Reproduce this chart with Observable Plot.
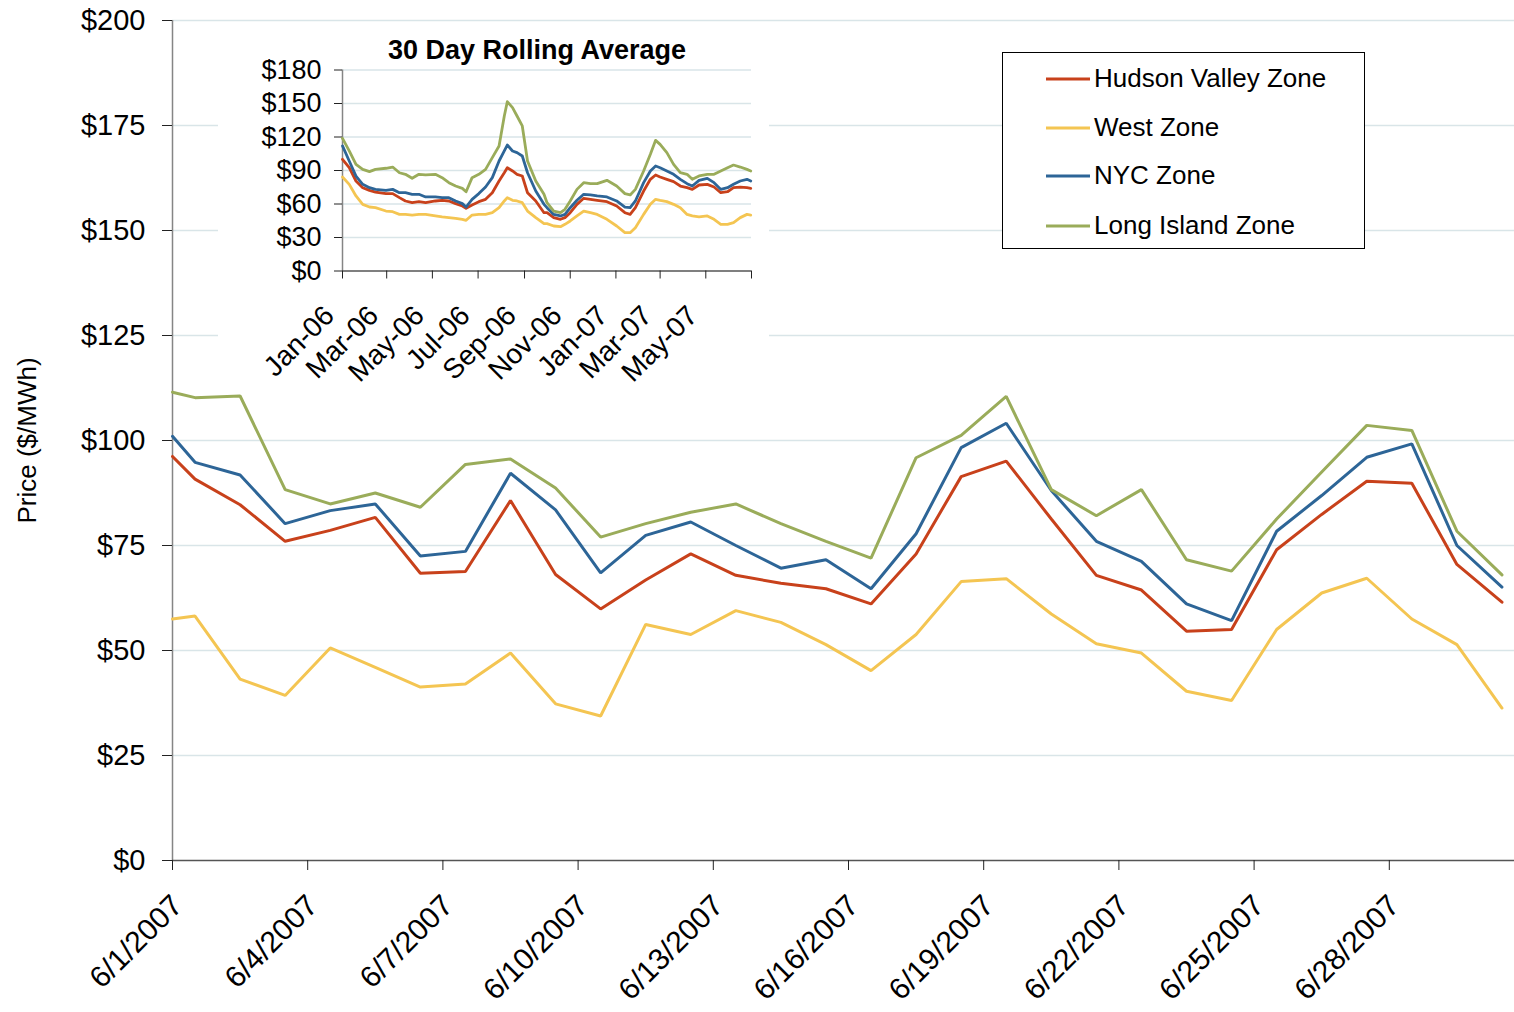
<!DOCTYPE html>
<html>
<head>
<meta charset="utf-8">
<script src="https://cdn.jsdelivr.net/npm/d3@7"></script>
<script src="https://cdn.jsdelivr.net/npm/@observablehq/plot@0.6"></script>
<style>
  html, body { margin: 0; padding: 0; background: #fff; }
  #wrap { position: relative; width: 1514px; height: 1012px; overflow: hidden; background: #fff;
          font-family: "Liberation Sans", Arial, sans-serif; }
  #main { position: absolute; left: 0; top: 0; }
  #inset { position: absolute; left: 218px; top: 24px; width: 551px; height: 364px; background: #fff; }
  #legend { position: absolute; left: 1002px; top: 52px; width: 361px; height: 195px;
            border: 1px solid #000; background: #fff; }
  .item { position: absolute; left: 0; height: 40px; width: 361px; }
  .item svg { position: absolute; left: 42px; top: 18px; }
  .item span { position: absolute; left: 91px; top: 4px; font-size: 26px; line-height: 30px; color: #000; white-space: nowrap; }
</style>
</head>
<body>
<div id="wrap">
  <div id="main"></div>
  <div id="inset"></div>
  <div id="legend"></div>
</div>
<script>
// ---------- data ----------
const zones = ["Hudson Valley Zone", "West Zone", "NYC Zone", "Long Island Zone"];
const zoneColors = ["#c8411b", "#f4c552", "#2d6597", "#9aac5a"];

// June 2007 daily prices ($/MWh)
const dates = [
  "2007-06-01T00:00Z", "2007-06-01T12:00Z", "2007-06-02T12:00Z", "2007-06-03T12:00Z", "2007-06-04T12:00Z",
  "2007-06-05T12:00Z", "2007-06-06T12:00Z", "2007-06-07T12:00Z", "2007-06-08T12:00Z", "2007-06-09T12:00Z",
  "2007-06-10T12:00Z", "2007-06-11T12:00Z", "2007-06-12T12:00Z", "2007-06-13T12:00Z", "2007-06-14T12:00Z",
  "2007-06-15T12:00Z", "2007-06-16T12:00Z", "2007-06-17T12:00Z", "2007-06-18T12:00Z", "2007-06-19T12:00Z",
  "2007-06-20T12:00Z", "2007-06-21T12:00Z", "2007-06-22T12:00Z", "2007-06-23T12:00Z", "2007-06-24T12:00Z",
  "2007-06-25T12:00Z", "2007-06-26T12:00Z", "2007-06-27T12:00Z", "2007-06-28T12:00Z", "2007-06-29T12:00Z",
  "2007-06-30T12:00Z"
];
const hudsonValley = [96.2, 90.8, 84.7, 76.0, 78.6, 81.7, 68.4, 68.8, 85.7, 68.1, 59.9, 66.8, 73.0, 67.9, 66.0, 64.7,
  61.1, 73.0, 91.4, 95.1, 81.3, 67.9, 64.4, 54.6, 55.0, 74.0, 82.4, 90.3, 89.8, 70.5, 61.5];
const west = [57.5, 58.2, 43.2, 39.3, 50.6, 46.0, 41.3, 42.0, 49.4, 37.3, 34.4, 56.2, 53.8, 59.5, 56.7, 51.4,
  45.2, 53.8, 66.4, 67.1, 58.7, 51.6, 49.4, 40.3, 38.1, 55.0, 63.7, 67.2, 57.5, 51.4, 36.3];
const nyc = [101.0, 94.8, 91.8, 80.2, 83.3, 84.9, 72.5, 73.6, 92.2, 83.5, 68.5, 77.4, 80.6, 75.0, 69.6, 71.6,
  64.7, 77.8, 98.3, 104.1, 88.1, 76.0, 71.2, 61.1, 57.1, 78.4, 86.9, 96.0, 99.2, 75.0, 65.1];
const longIsland = [111.5, 110.2, 110.6, 88.3, 84.9, 87.5, 84.1, 94.3, 95.6, 88.7, 77.0, 80.2, 82.9, 84.9, 80.2, 76.0,
  72.0, 95.9, 101.2, 110.5, 88.3, 82.1, 88.3, 71.6, 68.9, 81.3, 92.5, 103.6, 102.4, 78.4, 68.0];

const xTickDates = ["2007-06-01", "2007-06-04", "2007-06-07", "2007-06-10", "2007-06-13",
  "2007-06-16", "2007-06-19", "2007-06-22", "2007-06-25", "2007-06-28"];
const xTickLabels = ["6/1/2007", "6/4/2007", "6/7/2007", "6/10/2007", "6/13/2007",
  "6/16/2007", "6/19/2007", "6/22/2007", "6/25/2007", "6/28/2007"];
const yTicks = [0, 25, 50, 75, 100, 125, 150, 175, 200];

// 30 day rolling average (inset)
const insetDates = ["2006-01-01","2006-01-10","2006-01-19","2006-01-28","2006-02-06","2006-02-14","2006-02-28",
  "2006-03-09","2006-03-18","2006-03-26","2006-04-04","2006-04-13","2006-04-22","2006-05-05","2006-05-14","2006-05-23",
  "2006-06-01","2006-06-10","2006-06-15","2006-06-23","2006-07-02","2006-07-11","2006-07-20","2006-07-29",
  "2006-08-05","2006-08-09","2006-08-16","2006-08-22","2006-08-29","2006-09-05","2006-09-16","2006-09-27",
  "2006-10-01","2006-10-10","2006-10-19","2006-10-25","2006-11-01","2006-11-10","2006-11-19","2006-11-28",
  "2006-12-07","2006-12-20","2007-01-02","2007-01-13","2007-01-20","2007-01-27","2007-02-07","2007-02-16","2007-02-23",
  "2007-03-01","2007-03-10","2007-03-19","2007-03-28","2007-04-06","2007-04-13","2007-04-22",
  "2007-05-03","2007-05-12","2007-05-21","2007-05-30","2007-06-07","2007-06-16","2007-06-25","2007-06-30"];
const hudsonAvg = [100, 92.5, 80.6, 74.6, 72.2, 70.7, 69.3, 69.3, 65.7, 62.7, 61.2, 62.1, 61.2, 62.7, 63.3, 62.7,
  60.3, 58.2, 56.1, 59.1, 62.1, 64.2, 70.1, 80.6, 88, 92.5, 89.6, 86.6, 85.1, 70.1, 62.7, 52.2,
  52.2, 47.8, 46.3, 47.8, 52.2, 59.7, 65.1, 64.2, 63.3, 62.1, 58.2, 52.2, 50.7, 56.7, 71.6, 82.1, 86,
  84.2, 82.1, 80, 76.1, 74.6, 73.1, 77, 77.6, 75.2, 70.1, 71, 74.6, 75.2, 74.6, 74];
const westAvg = [84.2, 77.6, 67.2, 59.7, 57.3, 56.7, 53.7, 53.1, 50.7, 50.7, 50.1, 50.7, 50.7, 49.3, 48.4, 47.8,
  47.2, 46.3, 45.4, 50.1, 50.7, 50.7, 52.2, 56.7, 62.7, 65.7, 63.3, 62.7, 61.2, 53.7, 47.8, 42.4,
  42.4, 40.3, 39.7, 41.8, 44.8, 49.3, 53.7, 52.2, 50.7, 46.3, 40.3, 34.3, 34.3, 38.8, 50.7, 59.7, 64.2,
  63.3, 62.1, 59.7, 56.7, 50.7, 49.3, 48.4, 49.3, 46.3, 41.8, 41.8, 43.3, 47.8, 50.7, 50.1];
const nycAvg = [112, 98.5, 85, 77.6, 74.6, 73.1, 72.2, 73.1, 70.1, 70.1, 68.7, 68.7, 66.3, 66.3, 65.7, 65.7,
  62.7, 60.3, 57.3, 64.2, 69.3, 75.2, 83.6, 98.5, 107.5, 112.8, 107.5, 106, 103, 88, 71.6, 59.7,
  56.7, 50.7, 49.3, 50.7, 56.7, 63.3, 68.7, 68.1, 67.2, 66.3, 62.7, 57.3, 56.7, 62.7, 79.1, 89.6, 94,
  92.5, 89.6, 86.6, 82.1, 78.2, 76.1, 81.2, 83, 79.1, 73.1, 74.6, 77.6, 80.6, 82.1, 80.6];
const longIslandAvg = [118.8, 107.5, 95.5, 91, 89, 91, 92, 93.1, 88, 86.6, 83, 86.6, 86, 86.6, 83.6, 79.1,
  76.1, 74, 71, 83.6, 86.6, 91, 101.5, 112, 138.8, 151.6, 146.3, 138.8, 129.9, 98.5, 80.6, 68.7,
  61.2, 53.7, 52.2, 55.2, 62.7, 73.1, 79.1, 78.2, 78.2, 81.2, 76.1, 69.3, 68.1, 73.1, 89.6, 104.5, 117,
  113.4, 106, 95.5, 88, 86.6, 82.1, 85.1, 86.6, 86.6, 89.6, 92.5, 94.9, 93.1, 91, 89.6];

const insetTickDates = ["2006-01-01","2006-03-01","2006-05-01","2006-07-01","2006-09-01","2006-11-01",
  "2007-01-01","2007-03-01","2007-05-01","2007-07-01"];
const insetTickLabels = ["Jan-06","Mar-06","May-06","Jul-06","Sep-06","Nov-06","Jan-07","Mar-07","May-07",""];
const insetYTicks = [0, 30, 60, 90, 120, 150, 180];
const insetTitle = "30 Day Rolling Average";
const yLabel = "Price ($/MWh)";

// ---------- build tables ----------
const FONT = "'Liberation Sans', Arial, sans-serif";
const mainSeries = [hudsonValley, west, nyc, longIsland];
const mainData = [];
zones.forEach((z, i) => dates.forEach((d, j) => mainData.push({zone: z, date: new Date(d), value: mainSeries[i][j]})));
const insetSeries = [hudsonAvg, westAvg, nycAvg, longIslandAvg];
const insetData = [];
zones.forEach((z, i) => insetDates.forEach((d, j) => insetData.push({zone: z, date: new Date(d + "T00:00Z"), value: insetSeries[i][j]})));

const xTicks = xTickDates.map(d => new Date(d + "T00:00Z"));
const insetTicks = insetTickDates.map(d => new Date(d + "T00:00Z"));
const labelFor = (ticks, labels) => (d) => { const k = ticks.findIndex(t => +t === +d); return k >= 0 ? labels[k] : ""; };

// ---------- main chart ----------
const main = Plot.plot({
  width: 1514, height: 1012,
  marginLeft: 172, marginTop: 20, marginBottom: 152, marginRight: -10,
  style: {fontFamily: FONT, background: "transparent", overflow: "visible"},
  x: {type: "utc", domain: [new Date("2007-06-01T00:00Z"), new Date("2007-07-01T00:00Z")]},
  y: {domain: [0, 200]},
  color: {domain: zones, range: zoneColors},
  marks: [
    Plot.gridY(yTicks.filter(d => d > 0), {stroke: "#d9e5e8", strokeOpacity: 1, strokeWidth: 1.5}),
    Plot.ruleX([xTicks[0]], {stroke: "#858585", strokeWidth: 1.5}),
    Plot.ruleY([0], {stroke: "#555", strokeWidth: 1.5}),
    Plot.axisY(yTicks, {tickSize: 10, tickPadding: 17, tickFormat: d => "$" + d, label: null, fontSize: 29, stroke: "#222"}),
    Plot.axisX(xTicks, {tickSize: 10, tickFormat: () => "", label: null, stroke: "#222"}),
    Plot.axisX(xTicks, {tickSize: 0, tickPadding: 40, tickRotate: -45, dx: 5, tickFormat: labelFor(xTicks, xTickLabels), label: null, fontSize: 30}),
    Plot.lineY(mainData, {x: "date", y: "value", stroke: "zone", strokeWidth: 3, strokeLinejoin: "miter"}),
    Plot.text([yLabel], {text: d => d, frameAnchor: "left", textAnchor: "middle", dx: -145, rotate: -90, fontSize: 26})
  ]
});
document.getElementById("main").appendChild(main);

// ---------- inset chart ----------
const inset = Plot.plot({
  width: 551, height: 364,
  marginLeft: 124, marginTop: 45.5, marginBottom: 117.5, marginRight: 18,
  style: {fontFamily: FONT, background: "transparent", overflow: "visible"},
  x: {type: "utc", domain: [insetTicks[0], insetTicks[insetTicks.length - 1]]},
  y: {domain: [0, 180]},
  color: {domain: zones, range: zoneColors},
  marks: [
    Plot.gridY(insetYTicks.filter(d => d > 0), {stroke: "#d9e5e8", strokeOpacity: 1, strokeWidth: 1.5}),
    Plot.ruleX([insetTicks[0]], {stroke: "#858585", strokeWidth: 1.5}),
    Plot.ruleY([0], {stroke: "#555", strokeWidth: 1.5}),
    Plot.axisY(insetYTicks, {tickSize: 8, tickPadding: 13, tickFormat: d => "$" + d, label: null, fontSize: 27, stroke: "#222"}),
    Plot.axisX(insetTicks, {tickSize: 8, tickFormat: () => "", label: null, stroke: "#222"}),
    Plot.axisX(insetTicks, {tickSize: 0, tickPadding: 40, tickRotate: -45, dx: -13, tickFormat: labelFor(insetTicks, insetTickLabels), label: null, fontSize: 28}),
    Plot.lineY(insetData, {x: "date", y: "value", stroke: "zone", strokeWidth: 2.8}),
    Plot.text([insetTitle], {text: d => d, frameAnchor: "top", dx: -10, dy: -30, fontSize: 27, fontWeight: "bold"})
  ]
});
document.getElementById("inset").appendChild(inset);

// ---------- legend ----------
const legend = document.getElementById("legend");
const rowCenters = [26, 75, 123, 173];
zones.forEach((z, i) => {
  const row = document.createElement("div");
  row.className = "item";
  row.style.top = (rowCenters[i] - 20) + "px";
  row.innerHTML = `<svg width="46" height="4"><line x1="1" y1="2" x2="45" y2="2" stroke="${zoneColors[i]}" stroke-width="3"/></svg><span>${z}</span>`;
  legend.appendChild(row);
});
</script>
</body>
</html>
